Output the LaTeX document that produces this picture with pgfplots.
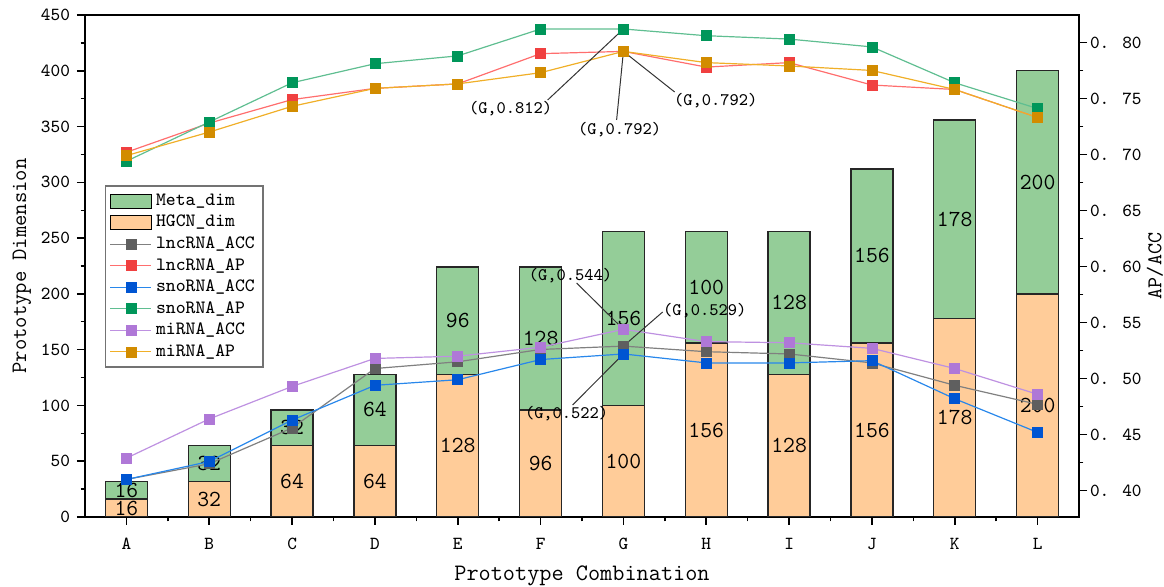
\documentclass[border=0pt]{standalone}
\usepackage{fontspec}
\usepackage{pgfplots}
\pgfplotsset{compat=1.18}
\renewcommand*\familydefault{\ttdefault}
\definecolor{metag}{RGB}{148,205,152}
\definecolor{hgcno}{RGB}{255,204,153}
\definecolor{lncaccM}{RGB}{95,95,95}
\definecolor{lncaccL}{RGB}{128,128,128}
\definecolor{lncapM}{RGB}{240,64,64}
\definecolor{lncapL}{RGB}{255,110,110}
\definecolor{snoaccM}{RGB}{0,85,210}
\definecolor{snoaccL}{RGB}{40,135,235}
\definecolor{snoapM}{RGB}{0,150,90}
\definecolor{snoapL}{RGB}{95,190,145}
\definecolor{miaccM}{RGB}{175,120,215}
\definecolor{miaccL}{RGB}{190,145,225}
\definecolor{miapM}{RGB}{210,140,0}
\definecolor{miapL}{RGB}{240,175,40}
\newcommand{\fs}[1]{\fontsize{#1}{#1}\selectfont\ttfamily}
\pgfplotsset{
  base/.style={scale only axis, width=497pt, height=251pt, xmin=-0.5, xmax=11.5},
  ln/.style 2 args={color=#2, line width=0.6pt, mark=square*, mark size=2.5pt,
     mark options={fill=#1, draw=#1, line width=0.3pt}},
}
\begin{document}
\begin{tikzpicture}
\useasboundingbox (-42.5pt,-35pt) rectangle (539.5pt,258.5pt);
% ---- bars (left axis)
\begin{axis}[base,
  ybar stacked, bar width=21pt,
  ymin=0, ymax=450,
  xtick={0,...,11}, xticklabels={A,B,C,D,E,F,G,H,I,J,K,L},
  ytick={0,50,...,450},
  minor x tick num=1, minor y tick num=1,
  tick align=outside, xtick pos=bottom, ytick pos=left,
  major tick length=4pt, minor tick length=2.2pt,
  axis line style={line width=0.9pt},
  every tick/.style={black, line width=0.8pt},
  every minor tick/.style={black, line width=0.7pt},
  /pgf/number format/assume math mode=true,
  ticklabel style={font=\fs{9.2}},
  xticklabel style={yshift=-3pt},
  xlabel={Prototype Combination}, ylabel={Prototype Dimension},
  every axis x label/.style={at={(axis description cs:0.5,-0.1175)}, anchor=center, font=\fs{11.8}},
  every axis y label/.style={at={(axis description cs:-0.0634,0.5)}, rotate=90, anchor=center, font=\fs{11}},
]
\addplot[fill=hgcno, draw=black!85, line width=0.7pt] coordinates
  {(0,16)(1,32)(2,64)(3,64)(4,128)(5,96)(6,100)(7,156)(8,128)(9,156)(10,178)(11,200)};
\addplot[fill=metag, draw=black!85, line width=0.7pt] coordinates
  {(0,16)(1,32)(2,32)(3,64)(4,96)(5,128)(6,156)(7,100)(8,128)(9,156)(10,178)(11,200)};
\end{axis}
% ---- bar value labels (overlay, same scale)
\begin{axis}[base, ymin=0, ymax=450, hide axis]
\addplot[draw=none, mark=none, nodes near coords, point meta=explicit symbolic,
  nodes near coords align=center, every node near coord/.append style={font=\fs{11.5}, anchor=center}]
  coordinates {(0,8)[16] (1,16)[32] (2,32)[64] (3,32)[64] (4,64)[128] (5,48)[96]
   (6,50)[100] (7,78)[156] (8,64)[128] (9,78)[156] (10,89)[178] (11,100)[200]};
\addplot[draw=none, mark=none, nodes near coords, point meta=explicit symbolic,
  nodes near coords align=center, every node near coord/.append style={font=\fs{11.5}, anchor=center}]
  coordinates {(0,24)[16] (1,48)[32] (2,80)[32] (3,96)[64] (4,176)[96] (5,160)[128]
   (6,178)[156] (7,206)[100] (8,192)[128] (9,234)[156] (10,267)[178] (11,300)[200]};
\end{axis}
% ---- lines (right axis)
\begin{axis}[base,
  ymin=0.3765, ymax=0.8245,
  axis x line=none, axis y line*=right,
  ytick={0.40,0.45,0.50,0.55,0.60,0.65,0.70,0.75,0.80},
  yticklabels={0. 40,0. 45,0. 50,0. 55,0. 60,0. 65,0. 70,0. 75,0. 80},
  minor y tick num=1, tick align=outside,
  major tick length=4pt, minor tick length=2.2pt,
  axis line style={line width=0.9pt},
  every tick/.style={black, line width=0.8pt},
  every minor tick/.style={black, line width=0.7pt},
  ticklabel style={font=\fs{9.2}},
  yticklabel style={xshift=-2pt},
  ylabel={AP/ACC},
  every axis y label/.style={at={(axis description cs:1.0765,0.5)}, rotate=90, anchor=center, font=\fs{10.5}},
  legend style={at={(0.02,0.661)}, anchor=north west, draw=black!55, line width=0.8pt,
     font=\fs{9.4}, row sep=-0.6pt, inner sep=2pt},
  legend cell align=left,
  legend image code/.code={\draw[mark repeat=2,mark phase=2,#1] plot coordinates {(0pt,0pt) (10.25pt,0pt) (20.5pt,0pt)};},
]
\addlegendimage{legend image code/.code={\draw[fill=metag, draw=black, line width=0.7pt] (0pt,-3.5pt) rectangle (20.5pt,3.5pt);}}
\addlegendentry{Meta\_dim}
\addlegendimage{legend image code/.code={\draw[fill=hgcno, draw=black, line width=0.7pt] (0pt,-3.5pt) rectangle (20.5pt,3.5pt);}}
\addlegendentry{HGCN\_dim}
\addplot[ln={lncaccM}{lncaccL}] coordinates
  {(0,0.410)(1,0.424)(2,0.456)(3,0.509)(4,0.515)(5,0.526)(6,0.529)(7,0.524)(8,0.522)(9,0.514)(10,0.494)(11,0.477)};
\addlegendentry{lncRNA\_ACC}
\addplot[ln={lncapM}{lncapL}] coordinates
  {(0,0.702)(1,0.728)(2,0.749)(3,0.759)(4,0.763)(5,0.790)(6,0.792)(7,0.778)(8,0.782)(9,0.762)(10,0.758)(11,0.733)};
\addlegendentry{lncRNA\_AP}
\addplot[ln={snoaccM}{snoaccL}] coordinates
  {(0,0.410)(1,0.426)(2,0.463)(3,0.494)(4,0.499)(5,0.517)(6,0.522)(7,0.514)(8,0.514)(9,0.516)(10,0.482)(11,0.452)};
\addlegendentry{snoRNA\_ACC}
\addplot[ln={snoapM}{snoapL}] coordinates
  {(0,0.694)(1,0.729)(2,0.764)(3,0.781)(4,0.788)(5,0.812)(6,0.812)(7,0.806)(8,0.803)(9,0.796)(10,0.764)(11,0.741)};
\addlegendentry{snoRNA\_AP}
\addplot[ln={miaccM}{miaccL}] coordinates
  {(0,0.429)(1,0.464)(2,0.493)(3,0.518)(4,0.520)(5,0.528)(6,0.544)(7,0.533)(8,0.532)(9,0.527)(10,0.509)(11,0.486)};
\addlegendentry{miRNA\_ACC}
\addplot[ln={miapM}{miapL}] coordinates
  {(0,0.699)(1,0.720)(2,0.743)(3,0.759)(4,0.763)(5,0.773)(6,0.792)(7,0.782)(8,0.779)(9,0.775)(10,0.758)(11,0.733)};
\addlegendentry{miRNA\_AP}
% annotations
\draw[black!80, line width=0.5pt] (axis cs:6,0.812) -- (axis cs:5.085,0.7486);
\node[font=\fs{8.8}] at (axis cs:4.638,0.7406) {(G,0.812)};
\draw[black!80, line width=0.5pt] (axis cs:6,0.792) -- (axis cs:5.918,0.7308);
\node[font=\fs{8.8}] at (axis cs:5.954,0.7219) {(G,0.792)};
\draw[black!80, line width=0.5pt] (axis cs:6,0.792) -- (axis cs:6.618,0.7558);
\node[font=\fs{8.8}] at (axis cs:7.114,0.7478) {(G,0.792)};
\draw[black!80, line width=0.5pt] (axis cs:6,0.544) -- (axis cs:5.435,0.5853);
\node[font=\fs{8.8}] at (axis cs:5.362,0.5916) {(G,0.544)};
\draw[black!80, line width=0.5pt] (axis cs:6,0.529) -- (axis cs:6.473,0.5594);
\node[font=\fs{8.8}] at (axis cs:6.981,0.5603) {(G,0.529)};
\draw[black!80, line width=0.5pt] (axis cs:6,0.522) -- (axis cs:5.386,0.4764);
\node[font=\fs{8.8}] at (axis cs:5.314,0.4684) {(G,0.522)};
\end{axis}
\end{tikzpicture}
\end{document}
